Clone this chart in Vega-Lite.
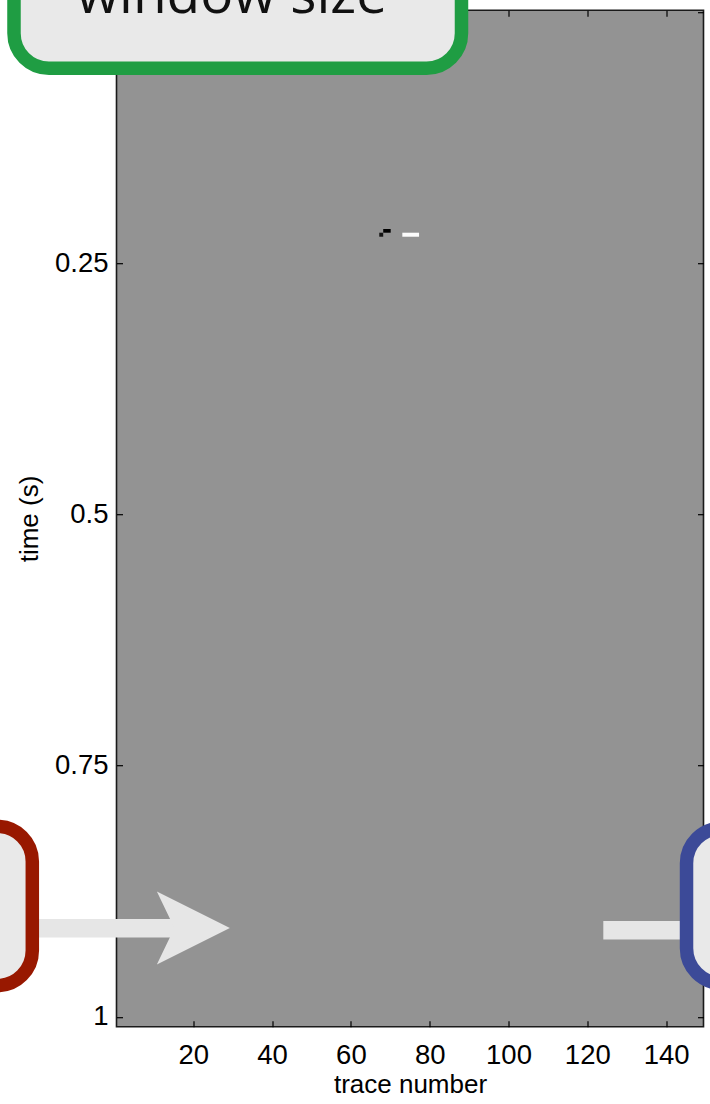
{
  "$schema": "https://vega.github.io/schema/vega-lite/v6.json",
  "usermeta": {"embedOptions": {"actions": false}},
  "autosize": {"type": "none"},
  "padding": {"left": 116.5, "top": 10.2, "right": 6.5, "bottom": 77.2},
  "width": 587,
  "height": 1016.6,
  "background": "#ffffff",
  "config": {
    "view": {"fill": "#939393", "stroke": "#1a1a1a", "strokeWidth": 1.6},
    "font": "Liberation Sans"
  },
  "datasets": {
    "cells": [
      {"t0": 68.2, "t1": 70.1, "s0": 0.2158, "s1": 0.2195, "v": -1},
      {"t0": 67.2, "t1": 68.2, "s0": 0.2195, "s1": 0.2235, "v": -0.9},
      {"t0": 73.05, "t1": 77.3, "s0": 0.2195, "s1": 0.2235, "v": 0.97}
    ],
    "shafts": [
      {"box": "red", "t0": -21.46, "t1": 15.35, "s": 0.9119},
      {"box": "blue", "t0": 124.07, "t1": 145.9, "s": 0.9139}
    ],
    "boxes": [
      {"box": "window", "t0": -25.52, "t1": 88.07, "s0": -0.1615, "s1": 0.05584},
      {"box": "red", "t0": -79.9, "t1": -20.87, "s0": 0.8106, "s1": 0.9689},
      {"box": "blue", "t0": 145.19, "t1": 199.9, "s0": 0.8124, "s1": 0.9667}
    ],
    "heads": [
      {"t": 20.01, "s": 0.9117}
    ],
    "labels": [
      {"label": "window size", "t": 29.74, "s": 0.0005}
    ]
  },
  "resolve": {"axis": {"x": "independent", "y": "independent"}},
  "layer": [
    {
      "data": {"name": "cells"},
      "mark": {"type": "rect"},
      "encoding": {
        "x": {
          "field": "t0", "type": "quantitative",
          "scale": {"domain": [0.5, 149.5], "nice": false, "zero": false},
          "axis": {
            "orient": "bottom", "values": [20, 40, 60, 80, 100, 120, 140],
            "title": "trace number", "domain": false, "grid": false,
            "ticks": true, "tickSize": -6, "tickColor": "#000000", "tickWidth": 1.2,
            "labelFont": "Liberation Sans", "labelFontSize": 27.5, "labelColor": "#000000",
            "labelBaseline": "alphabetic", "labelPadding": 42.5,
            "labelFlush": false, "labelOverlap": false,
            "titleFont": "Liberation Sans", "titleFontSize": 26, "titleFontWeight": "normal",
            "titleColor": "#000000", "titleX": 293.5, "titleY": 66.2, "titleBaseline": "alphabetic"
          }
        },
        "x2": {"field": "t1"},
        "y": {
          "field": "s0", "type": "quantitative",
          "scale": {"domain": [-0.002, 1.01], "nice": false, "zero": false, "reverse": true},
          "axis": {
            "orient": "left", "values": [0.25, 0.5, 0.75, 1], "labelExpr": "'' + datum.value",
            "title": "time (s)", "domain": false, "grid": false,
            "ticks": true, "tickSize": -6, "tickColor": "#000000", "tickWidth": 1.2,
            "labelFont": "Liberation Sans", "labelFontSize": 27.5, "labelColor": "#000000",
            "labelBaseline": "middle", "labelPadding": 14.5,
            "labelFlush": false, "labelOverlap": false,
            "titleFont": "Liberation Sans", "titleFontSize": 26, "titleFontWeight": "normal",
            "titleColor": "#000000", "titleX": -79.5, "titleY": 508.3, "titleAngle": 270,
            "titleBaseline": "alphabetic", "titleAlign": "center"
          }
        },
        "y2": {"field": "s1"},
        "color": {
          "field": "v", "type": "quantitative",
          "scale": {"domain": [-1, 0, 1], "range": ["#000000", "#939393", "#ffffff"]},
          "legend": null
        }
      }
    },
    {
      "data": {"name": "shafts"},
      "mark": {"type": "rule", "strokeWidth": 18.3, "color": "#e6e6e6", "strokeCap": "butt", "opacity": 1},
      "encoding": {
        "x": {
          "field": "t0", "type": "quantitative",
          "axis": {
            "orient": "top", "values": [20, 40, 60, 80, 100, 120, 140],
            "labels": false, "title": null, "domain": false, "grid": false,
            "ticks": true, "tickSize": -6, "tickColor": "#000000", "tickWidth": 1.2
          }
        },
        "x2": {"field": "t1"},
        "y": {
          "field": "s", "type": "quantitative",
          "axis": {
            "orient": "right", "values": [0, 0.25, 0.5, 0.75, 1],
            "labels": false, "title": null, "domain": false, "grid": false,
            "ticks": true, "tickSize": -6, "tickColor": "#000000", "tickWidth": 1.2
          }
        }
      }
    },
    {
      "data": {"name": "boxes"},
      "mark": {"type": "rect", "fill": "#e9e9e9", "filled": true, "strokeWidth": 13.5, "cornerRadius": 35, "opacity": 1},
      "encoding": {
        "x": {"field": "t0", "type": "quantitative", "axis": null},
        "x2": {"field": "t1"},
        "y": {"field": "s0", "type": "quantitative", "axis": null},
        "y2": {"field": "s1"},
        "stroke": {
          "field": "box", "type": "nominal",
          "scale": {"domain": ["window", "red", "blue"], "range": ["#1f9d43", "#981800", "#3c4a98"]},
          "legend": null
        }
      }
    },
    {
      "data": {"name": "heads"},
      "mark": {"type": "point", "shape": "M1,0L-1,-1L-0.52,0L-1,1Z", "size": 5329, "filled": true, "color": "#e6e6e6", "opacity": 1, "strokeWidth": 0},
      "encoding": {
        "x": {"field": "t", "type": "quantitative", "axis": null},
        "y": {"field": "s", "type": "quantitative", "axis": null}
      }
    },
    {
      "data": {"name": "labels"},
      "mark": {"type": "text", "font": "Open Sans", "fontSize": 55, "align": "center", "baseline": "alphabetic", "color": "#111111"},
      "encoding": {
        "x": {"field": "t", "type": "quantitative", "axis": null},
        "y": {"field": "s", "type": "quantitative", "axis": null},
        "text": {"field": "label", "type": "nominal"}
      }
    }
  ]
}
